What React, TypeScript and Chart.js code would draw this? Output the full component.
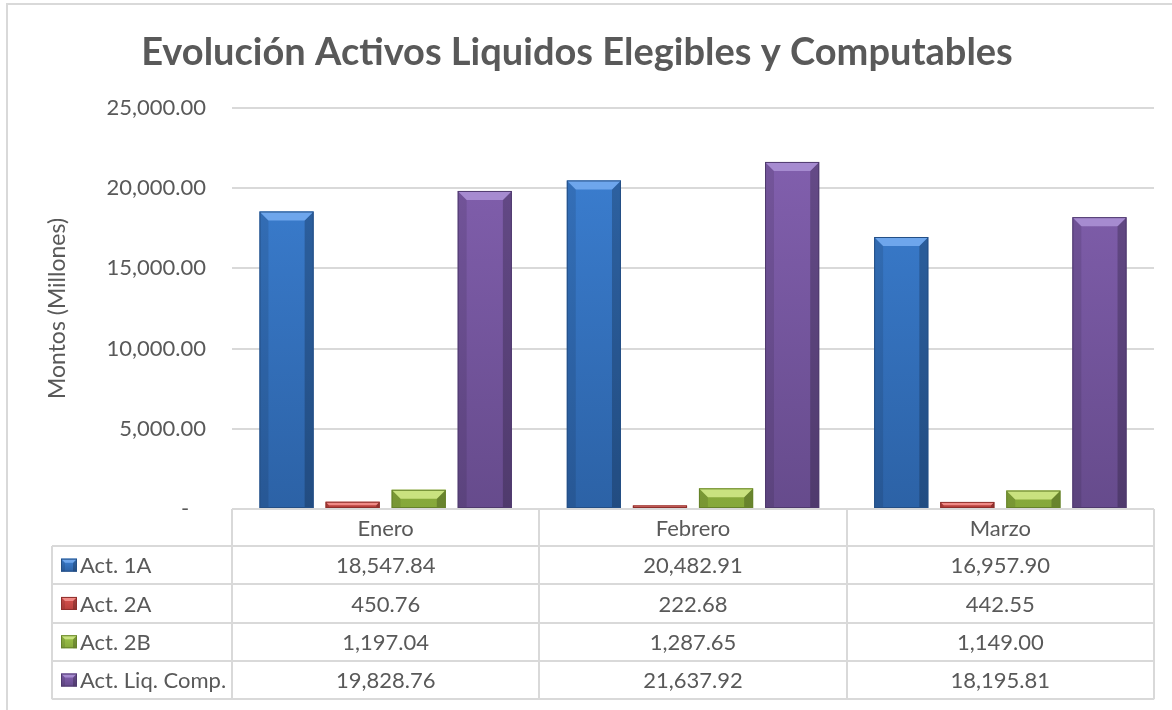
import React, { useEffect, useRef } from "react";
import { Chart, registerables } from "chart.js";

Chart.register(...registerables);

const chartTitle = "Evolución Activos Liquidos Elegibles y Computables";
const yAxisTitle = "Montos (Millones)";
const categories = ["Enero", "Febrero", "Marzo"];
const seriesNames = ["Act. 1A", "Act. 2A", "Act. 2B", "Act. Liq. Comp."];
const act1A = [18547.84, 20482.91, 16957.9];
const act2A = [450.76, 222.68, 442.55];
const act2B = [1197.04, 1287.65, 1149.0];
const actLiqComp = [19828.76, 21637.92, 18195.81];
const yMin = 0;
const yMax = 25000;
const yStep = 5000;

const FONT = "Lato, 'Open Sans', sans-serif";
const TEXT = "#595959";
const LINE = "#d9d9d9";

const palettes = [
  { light: "#6ea6ec", top: "#3d82d6", bottom: "#2c62a6", edge: "#244f86" },
  { light: "#f08a86", top: "#d9534f", bottom: "#b8403c", edge: "#8e2f2c" },
  { light: "#c9e27f", top: "#9fc54a", bottom: "#86a83a", edge: "#66822a" },
  { light: "#a68bd0", top: "#8562b2", bottom: "#664b8c", edge: "#4f3a6e" },
];

const seriesValues = [act1A, act2A, act2B, actLiqComp];

const fmt = (v: number) =>
  v.toLocaleString("en-US", { minimumFractionDigits: 2, maximumFractionDigits: 2 });

function bevelBar(ctx: CanvasRenderingContext2D, left: number, top: number, right: number, bottom: number, p: any, maxB: number) {
  const h = bottom - top;
  const w = right - left;
  const b = Math.min(maxB, h * 0.55, w / 2);
  ctx.save();
  ctx.fillStyle = "rgba(0,0,0,0.10)";
  ctx.beginPath();
  ctx.moveTo(left, top);
  ctx.lineTo(left + b, top + b);
  ctx.lineTo(left + b, bottom);
  ctx.lineTo(left, bottom);
  ctx.closePath();
  ctx.fill();
  ctx.fillStyle = "rgba(0,0,0,0.22)";
  ctx.beginPath();
  ctx.moveTo(right, top);
  ctx.lineTo(right - b, top + b);
  ctx.lineTo(right - b, bottom);
  ctx.lineTo(right, bottom);
  ctx.closePath();
  ctx.fill();
  ctx.fillStyle = p.light;
  ctx.beginPath();
  ctx.moveTo(left, top);
  ctx.lineTo(right, top);
  ctx.lineTo(right - b, top + b);
  ctx.lineTo(left + b, top + b);
  ctx.closePath();
  ctx.fill();
  ctx.strokeStyle = p.edge;
  ctx.lineWidth = 1;
  ctx.strokeRect(left + 0.5, top + 0.5, w - 1, h - 1);
  ctx.restore();
}

const bevelPlugin = {
  id: "bevel",
  afterDatasetsDraw(chart: any) {
    const ctx = chart.ctx;
    chart.data.datasets.forEach((_: any, di: number) => {
      const meta = chart.getDatasetMeta(di);
      meta.data.forEach((el: any) => {
        const { x, y, base, width } = el.getProps(["x", "y", "base", "width"], true);
        bevelBar(ctx, x - width / 2, y, x + width / 2, base, palettes[di], 9);
      });
    });
  },
};

const framePlugin = {
  id: "frame",
  beforeDraw(chart: any) {
    const ctx = chart.ctx;
    ctx.save();
    ctx.fillStyle = "#ffffff";
    ctx.fillRect(0, 0, chart.width, chart.height);
    ctx.strokeStyle = LINE;
    ctx.lineWidth = 2;
    ctx.beginPath();
    ctx.moveTo(7, chart.height);
    ctx.lineTo(7, 4);
    ctx.lineTo(chart.width, 4);
    ctx.stroke();
    ctx.restore();
  },
};

const tablePlugin = {
  id: "dataTable",
  afterDraw(chart: any) {
    const ctx = chart.ctx;
    const xs = chart.scales.x;
    const n = categories.length;
    const colW = (xs.right - xs.left) / n;
    const tableTop = chart.chartArea.bottom;
    const headerH = 37;
    const rowH = 38.3;
    const labelLeft = 52;
    const rowsTop = tableTop + headerH;
    const tableBottom = rowsTop + rowH * seriesNames.length;
    ctx.save();
    ctx.strokeStyle = LINE;
    ctx.lineWidth = 2;
    ctx.beginPath();
    ctx.moveTo(xs.left, tableTop);
    ctx.lineTo(xs.right, tableTop);
    for (let r = 0; r <= seriesNames.length; r++) {
      const y = Math.round(rowsTop + r * rowH);
      ctx.moveTo(labelLeft, y);
      ctx.lineTo(xs.right, y);
    }
    ctx.moveTo(labelLeft, rowsTop);
    ctx.lineTo(labelLeft, tableBottom);
    for (let c = 0; c <= n; c++) {
      const x = Math.round(xs.left + c * colW);
      ctx.moveTo(x, tableTop);
      ctx.lineTo(x, tableBottom);
    }
    ctx.stroke();

    ctx.fillStyle = TEXT;
    ctx.font = `22px ${FONT}`;
    ctx.textBaseline = "middle";
    ctx.textAlign = "center";
    categories.forEach((cat, i) => {
      const cx = xs.getPixelForValue(i);
      ctx.fillText(cat, cx, tableTop + headerH / 2 + 1);
    });
    seriesNames.forEach((name, r) => {
      const cy = rowsTop + r * rowH + rowH / 2;
      const p = palettes[r];
      const kx = 61, kw = 16, kh = 13;
      const g = ctx.createLinearGradient(0, cy - kh / 2, 0, cy + kh / 2);
      g.addColorStop(0, p.top);
      g.addColorStop(1, p.bottom);
      ctx.fillStyle = g;
      ctx.fillRect(kx, cy - kh / 2, kw, kh);
      bevelBar(ctx, kx, cy - kh / 2, kx + kw, cy + kh / 2, p, 4);
      ctx.fillStyle = TEXT;
      ctx.textAlign = "left";
      ctx.fillText(name, 80, cy + 1);
      ctx.textAlign = "center";
      seriesValues[r].forEach((v, i) => {
        ctx.fillText(fmt(v), xs.getPixelForValue(i), cy + 1);
      });
    });
    ctx.restore();
  },
};

export default function App() {
  const ref = useRef<HTMLCanvasElement | null>(null);
  useEffect(() => {
    if (!ref.current) return;
    const datasets = seriesNames.map((name, i) => ({
      label: name,
      data: seriesValues[i],
      backgroundColor: (c: any) => {
        const area = c.chart.chartArea;
        if (!area) return palettes[i].top;
        const g = c.chart.ctx.createLinearGradient(0, area.top, 0, area.bottom);
        g.addColorStop(0, palettes[i].top);
        g.addColorStop(1, palettes[i].bottom);
        return g;
      },
      borderWidth: 0,
      categoryPercentage: 0.86,
      barPercentage: 0.82,
    }));
    const chart = new Chart(ref.current, {
      type: "bar",
      data: { labels: categories, datasets },
      plugins: [framePlugin, bevelPlugin, tablePlugin],
      options: {
        responsive: false,
        animation: false,
        layout: { padding: { left: 0, right: 18, top: 0, bottom: 201 } },
        plugins: {
          legend: { display: false },
          tooltip: { enabled: false },
          title: {
            display: true,
            text: chartTitle,
            color: TEXT,
            font: { family: FONT, size: 38, weight: "bold" },
            padding: { top: 30, bottom: 32.4 },
          },
        },
        scales: {
          x: { display: false },
          y: {
            min: yMin,
            max: yMax,
            afterFit: (s: any) => {
              s.width = 232;
            },
            border: { display: false },
            grid: { color: LINE, lineWidth: 2, drawTicks: false },
            ticks: {
              stepSize: yStep,
              padding: 26,
              color: TEXT,
              font: { family: FONT, size: 22 },
              callback: (v: any) => (Number(v) === 0 ? "-   " : fmt(Number(v))),
            },
            title: {
              display: true,
              text: yAxisTitle,
              color: TEXT,
              font: { family: FONT, size: 23 },
              padding: { top: 44, bottom: 0 },
            },
          },
        },
      },
    });
    return () => chart.destroy();
  }, []);
  return (
    <div style={{ position: "fixed", left: 0, top: 0, width: 1172, height: 710, background: "#fff" }}>
      <canvas ref={ref} width={1172} height={710} style={{ display: "block" }} />
    </div>
  );
}
